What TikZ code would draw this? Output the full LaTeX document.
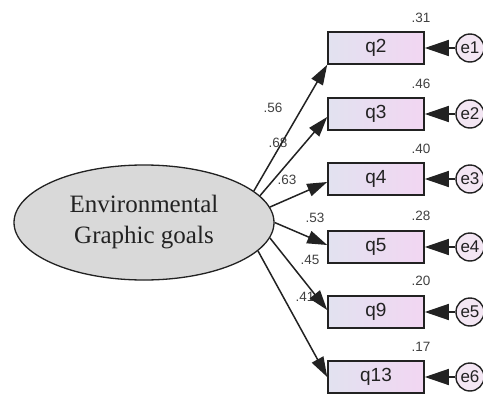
\documentclass[tikz,border=0pt]{standalone}
\usepackage{fontspec}
\setmainfont{Liberation Serif}
\setsansfont{Liberation Sans}
\usetikzlibrary{arrows.meta,shapes.geometric}
\definecolor{ellfill}{HTML}{D9D9D9}
\definecolor{boxl}{HTML}{E2E2F0}
\definecolor{boxr}{HTML}{F2D6F2}
\definecolor{errfill}{HTML}{F3E6F3}
\definecolor{ink}{HTML}{222222}
\begin{document}
\begin{tikzpicture}[x=1pt,y=-1pt,
 latent/.style={ellipse, draw=ink, line width=1.3pt, fill=ellfill, minimum width=260pt, minimum height=115pt, inner sep=0pt, font=\fontsize{25}{31}\selectfont, align=center, text=ink},
 obs/.style={rectangle, draw=ink, line width=1.6pt, left color=boxl, right color=boxr, minimum width=96pt, minimum height=32pt, inner sep=0pt, font=\sffamily\fontsize{19}{19}\selectfont, text=ink},
 err/.style={circle, draw=ink, line width=1.4pt, fill=errfill, minimum size=28pt, inner sep=0pt, font=\sffamily\fontsize{17}{17}\selectfont, text=ink},
 load/.style={-{Triangle[length=20pt,width=13pt]}, line width=1.5pt, draw=ink},
 errarr/.style={-{Triangle[length=24pt,width=16pt]}, line width=1.5pt, draw=ink},
 lab/.style={font=\sffamily\fontsize{13.5}{13.5}\selectfont, text=black!75, inner sep=0pt}]
\useasboundingbox (0,0) rectangle (483,394);
\fill[white] (0,0) rectangle (483,394);

\node[latent] (F) at (144,222.5) {Environmental\\Graphic goals};

\node[obs] (q2)  at (376,48)  {q2};
\node[obs] (q3)  at (376,114) {q3};
\node[obs] (q4)  at (376,179) {q4};
\node[obs] (q5)  at (376,247) {q5};
\node[obs] (q9)  at (376,312) {q9};
\node[obs] (q13) at (376,377) {q13};

\node[err] (e1) at (470,48)  {e1};
\node[err] (e2) at (470,114) {e2};
\node[err] (e3) at (470,179) {e3};
\node[err] (e4) at (470,247) {e4};
\node[err] (e5) at (470,312) {e5};
\node[err] (e6) at (470,377) {e6};

% squared multiple correlations
\node[lab] (r2)  at (421,18)  {.31};
\node[lab] (r3)  at (421,84)  {.46};
\node[lab] (r4)  at (421,149) {.40};
\node[lab] (r5)  at (421,216) {.28};
\node[lab] (r9)  at (421,281) {.20};
\node[lab] (r13) at (421,347) {.17};

% loadings
\node[lab] (l2)  at (273,108) {.56};
\node[lab] (l3)  at (278,143) {.68};
\node[lab] (l4)  at (287,180) {.63};
\node[lab] (l5)  at (315,218) {.53};
\node[lab] (l9)  at (310,260) {.45};
\node[lab] (l13) at (305,297) {.41};

\draw[load] (F.16.6) -- (q2.south west);
\draw[load] (F.13.1) -- ([yshift=-3pt]q3.west);
\draw[load] (F.7.9)  -- ([yshift=-3pt]q4.west);
\draw[load] (F.-0.2) -- ([yshift=2pt]q5.west);
\draw[load] (F.-7.9) -- ([yshift=2pt]q9.west);
\draw[load] (F.-14)  -- (q13.west);

\draw[errarr] (e1) -- (q2.east);
\draw[errarr] (e2) -- (q3.east);
\draw[errarr] (e3) -- (q4.east);
\draw[errarr] (e4) -- (q5.east);
\draw[errarr] (e5) -- (q9.east);
\draw[errarr] (e6) -- (q13.east);
\end{tikzpicture}
\end{document}
